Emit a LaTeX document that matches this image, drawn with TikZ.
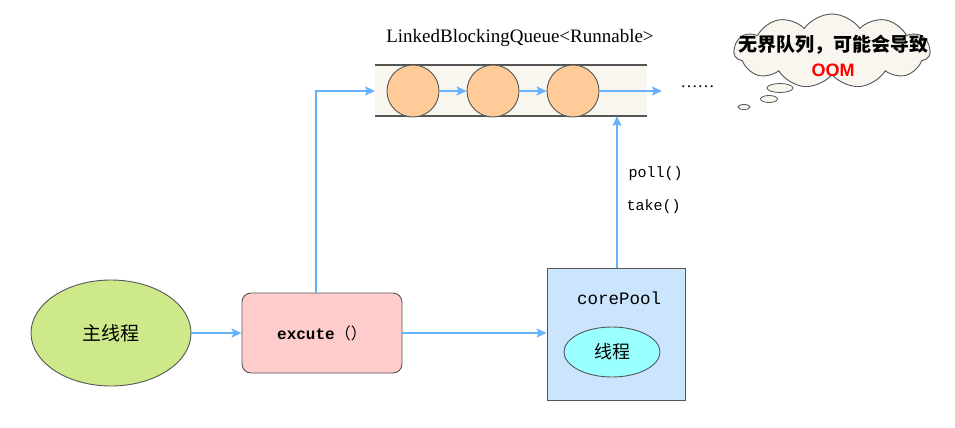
\documentclass[tikz,border=0pt]{standalone}
\usepackage{fontspec}
\setmainfont{Liberation Serif}
\setmonofont{Liberation Mono}
\newfontfamily\cjk{Noto Sans CJK SC}
\newfontfamily\arialfont{Liberation Sans}
\usetikzlibrary{shapes.geometric,shapes.symbols,arrows.meta}
\definecolor{arrowblue}{HTML}{66B2FF}
\definecolor{bandfill}{HTML}{F8F6EE}
\definecolor{ballfill}{HTML}{FFCC99}
\definecolor{greenfill}{HTML}{CDE98A}
\definecolor{pinkfill}{HTML}{FFCCCC}
\definecolor{bluefill}{HTML}{CCE5FF}
\definecolor{cyanfill}{HTML}{99FFFF}
\definecolor{edgegray}{HTML}{555555}
\definecolor{cloudfill}{HTML}{F8F6EE}
\begin{document}
\begin{tikzpicture}[x=1pt,y=-1pt,
  conn/.style={draw=arrowblue, line width=1.2pt, -{Stealth[length=10pt,width=9pt,inset=2pt]}},
  ball/.style={circle, draw=edgegray, line width=0.9pt, fill=ballfill, minimum size=52pt, inner sep=0pt},
  bubble/.style={ellipse, draw=edgegray, line width=0.8pt, fill=cloudfill, inner sep=0pt}
]
\useasboundingbox (0,0) rectangle (955,428);

% queue band
\fill[bandfill] (375,65) rectangle (647,116);
\draw[edgegray, line width=1.1pt] (375,65) -- (647,65);
\draw[edgegray, line width=1.1pt] (375,116) -- (647,116);
\coordinate (qin) at (375,91);
\coordinate (qbot) at (617,116);
\coordinate (qout) at (662,91);
\node[font=\fontsize{19}{21}\selectfont] (qlabel) at (520,38) {LinkedBlockingQueue<Runnable>};

\node[ball] (b1) at (413,91) {};
\node[ball] (b2) at (493,91) {};
\node[ball] (b3) at (573,91) {};
\draw[conn] (b1) -- (b2);
\draw[conn] (b2) -- (b3);
\draw[conn] (b3) -- (qout);
\node[font=\fontsize{17}{19}\selectfont, anchor=west] (dots) at (677,87) {……};

% cloud
\node[cloud, cloud puffs=11, cloud puff arc=110, aspect=2.6, draw=edgegray, line width=0.9pt,
  fill=cloudfill, minimum width=196pt, minimum height=74pt, inner sep=0pt] (cloud) at (832,51) {};
\node[font=\cjk\bfseries\fontsize{19}{21}\selectfont] (ctext) at (833,45) {无界队列，可能会导致};
\node[font=\arialfont\bfseries\fontsize{18}{20}\selectfont, text=red] (oom) at (833,70) {OOM};
\node[bubble, minimum width=26pt, minimum height=9pt] (bb1) at (780,88) {};
\node[bubble, minimum width=17pt, minimum height=7pt] (bb2) at (769,99) {};
\node[bubble, minimum width=12pt, minimum height=5pt] (bb3) at (744,107) {};

% main thread
\node[ellipse, draw=edgegray, line width=0.9pt, fill=greenfill, minimum width=160pt, minimum height=106pt,
  font=\cjk\fontsize{19}{21}\selectfont] (main) at (111,333) {主线程};

% excute
\node[rectangle, rounded corners=9pt, draw=edgegray, line width=0.9pt, fill=pinkfill,
  minimum width=160pt, minimum height=80pt] (exec) at (322,333)
  {\ttfamily\bfseries\fontsize{16}{18}\selectfont excute{\cjk\mdseries （）}};

% corePool
\node[rectangle, draw=edgegray, line width=0.9pt, fill=bluefill, minimum width=138pt, minimum height=132pt] (pool) at (616,334) {};
\node[font=\ttfamily\fontsize{17.5}{19}\selectfont] (pooltxt) at (619,298) {corePool};
\node[ellipse, draw=edgegray, line width=0.9pt, fill=cyanfill, minimum width=96pt, minimum height=50pt,
  font=\cjk\fontsize{18}{20}\selectfont] (thr) at (612,352) {线程};

% connectors
\draw[conn] (main.east) -- (main.east -| exec.west);
\draw[conn] (exec.east) -- (exec.east -| pool.west);
\coordinate (etop) at (316,293);
\draw[conn] (etop) |- (qin);
\coordinate (ptop) at (617,268);
\draw[conn] (ptop) -- (qbot);

\node[font=\ttfamily\fontsize{15}{17}\selectfont, anchor=west] (poll) at (625,174) {poll()};
\node[font=\ttfamily\fontsize{15}{17}\selectfont, anchor=west] (take) at (623,207) {take()};
\end{tikzpicture}
\end{document}
